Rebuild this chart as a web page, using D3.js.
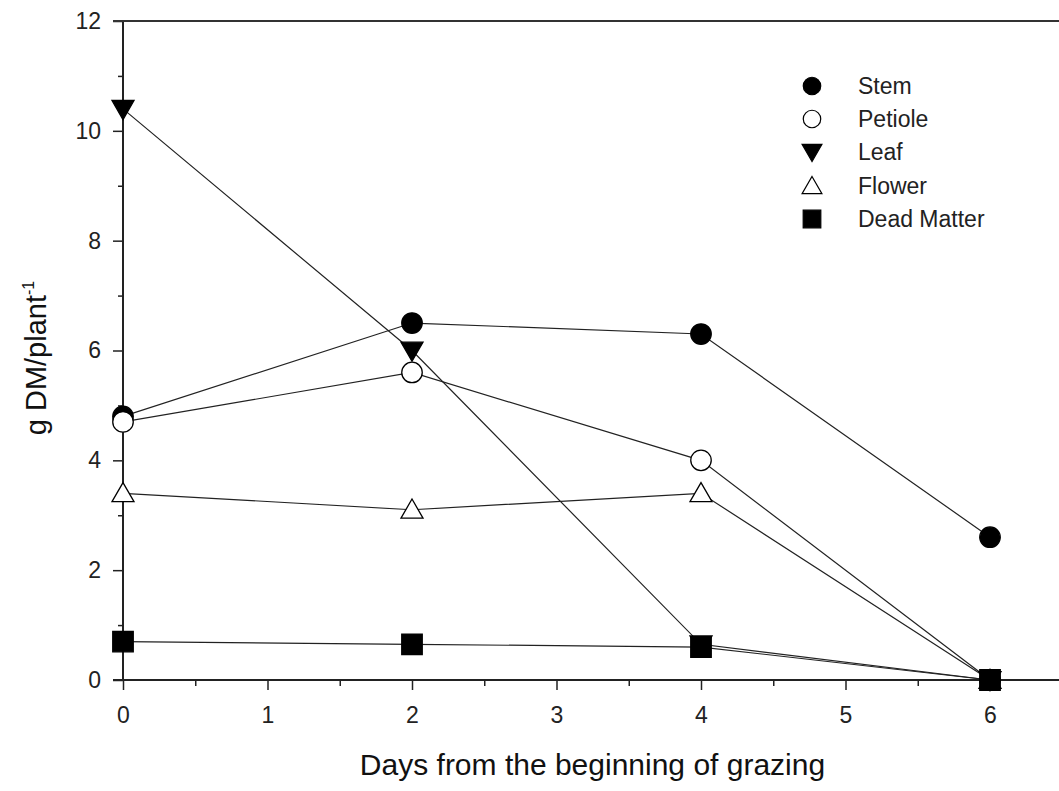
<!DOCTYPE html>
<html>
<head>
<meta charset="utf-8">
<script src="https://cdn.jsdelivr.net/npm/d3@7"></script>
<style>
  body { margin: 0; background: #fff; }
  svg { display: block; font-family: "Liberation Sans", Arial, sans-serif; }
</style>
</head>
<body>
<div id="chart"></div>
<script>
// days after start of grazing
const days = [0, 2, 4, 6];

const stem = [4.8, 6.5, 6.3, 2.6];
const petiole = [4.7, 5.6, 4.0, 0];
const leaf = [10.4, 6.0, 0.65, 0];
const flower = [3.4, 3.1, 3.4, 0];
const deadMatter = [0.7, 0.65, 0.6, 0];

const seriesNames = ['Stem', 'Petiole', 'Leaf', 'Flower', 'Dead Matter'];
const xTicks = [0, 1, 2, 3, 4, 5, 6];
const yTicks = [0, 2, 4, 6, 8, 10, 12];

const width = 1059, height = 791;

const series = [
  {name: seriesNames[0], values: stem, shape: d3.symbolCircle, fill: '#000', rot: 0},
  {name: seriesNames[1], values: petiole, shape: d3.symbolCircle, fill: '#fff', rot: 0},
  {name: seriesNames[2], values: leaf, shape: d3.symbolTriangle, fill: '#000', rot: 180},
  {name: seriesNames[3], values: flower, shape: d3.symbolTriangle, fill: '#fff', rot: 0},
  {name: seriesNames[4], values: deadMatter, shape: d3.symbolSquare, fill: '#000', rot: 0}
];
// symbol areas for plot and legend
const sizes = {circle: [330, 240], triangle: [210, 170], square: [420, 310]};
const sizeOf = (s, i) => s.shape === d3.symbolCircle ? sizes.circle[i]
  : s.shape === d3.symbolSquare ? sizes.square[i] : sizes.triangle[i];

const x = d3.scaleLinear().domain([0, 6]).range([123, 990]);
const y = d3.scaleLinear().domain([0, 12]).range([680, 21]);

const svg = d3.select('#chart').append('svg')
  .attr('width', width).attr('height', height);
svg.append('rect').attr('width', width).attr('height', height).attr('fill', '#fff');

// minor ticks
svg.append('g')
  .attr('transform', `translate(0,${y(0)})`)
  .call(d3.axisBottom(x).tickValues(d3.range(0.5, 6.6, 1)).tickSize(6).tickFormat(''))
  .call(g => g.select('.domain').remove())
  .selectAll('line').attr('stroke', '#222').attr('stroke-width', 1.5);
svg.append('g')
  .attr('transform', `translate(${x(0)},0)`)
  .call(d3.axisLeft(y).tickValues(d3.range(1, 12, 2)).tickSize(5).tickFormat(''))
  .call(g => g.select('.domain').remove())
  .selectAll('line').attr('stroke', '#222').attr('stroke-width', 1.5);

// major ticks
const xAxis = svg.append('g')
  .attr('transform', `translate(0,${y(0)})`)
  .call(d3.axisBottom(x).tickValues(xTicks).tickSize(10).tickPadding(17).tickFormat(d3.format('d')))
  .call(g => g.select('.domain').remove());
const yAxis = svg.append('g')
  .attr('transform', `translate(${x(0)},0)`)
  .call(d3.axisLeft(y).tickValues(yTicks).tickSize(10).tickPadding(12).tickFormat(d3.format('d')))
  .call(g => g.select('.domain').remove());
[xAxis, yAxis].forEach(a => {
  a.selectAll('line').attr('stroke', '#222').attr('stroke-width', 1.5);
  a.selectAll('text').attr('font-size', 23).attr('fill', '#222')
    .attr('font-family', '"Liberation Sans", Arial, sans-serif');
});

// frame lines
svg.append('line').attr('x1', x(0)).attr('x2', x(0)).attr('y1', y(12)).attr('y2', y(0))
  .attr('stroke', '#222').attr('stroke-width', 2);
svg.append('line').attr('x1', x(0) - 10).attr('x2', width).attr('y1', y(0)).attr('y2', y(0))
  .attr('stroke', '#222').attr('stroke-width', 2);
svg.append('line').attr('x1', x(0) - 10).attr('x2', width).attr('y1', y(12)).attr('y2', y(12))
  .attr('stroke', '#333').attr('stroke-width', 2);

const line = d3.line().x((d, i) => x(days[i])).y(d => y(d));

svg.append('g').selectAll('path').data(series).join('path')
  .attr('d', s => line(s.values))
  .attr('fill', 'none').attr('stroke', '#222').attr('stroke-width', 1.2);

series.forEach(s => {
  svg.append('g').selectAll('path').data(s.values).join('path')
    .attr('d', d3.symbol(s.shape, sizeOf(s, 0)))
    .attr('transform', (d, i) => `translate(${x(days[i])},${y(d) + (s.shape === d3.symbolTriangle ? (s.rot ? -2 : 2) : 0)}) rotate(${s.rot})`)
    .attr('fill', s.fill).attr('stroke', '#000').attr('stroke-width', 1.3);
});

// legend
const legendY = [86, 119, 152, 186, 219];
const legend = svg.append('g');
series.forEach((s, i) => {
  legend.append('path')
    .attr('d', d3.symbol(s.shape, sizeOf(s, 1)))
    .attr('transform', `translate(812,${legendY[i] + (s.shape === d3.symbolTriangle ? (s.rot ? -2 : 2) : 0)}) rotate(${s.rot})`)
    .attr('fill', s.fill).attr('stroke', '#000').attr('stroke-width', 1.2);
  legend.append('text')
    .attr('x', 858).attr('y', legendY[i] + 8)
    .attr('font-size', 23).attr('fill', '#222')
    .text(s.name);
});

// axis titles
svg.append('text')
  .attr('x', (350 + 835) / 2).attr('y', 775)
  .attr('text-anchor', 'middle').attr('font-size', 30).attr('fill', '#111')
  .text('Days from the beginning of grazing');

const yt = svg.append('text')
  .attr('transform', 'translate(46,358) rotate(-90)')
  .attr('text-anchor', 'middle').attr('font-size', 29).attr('fill', '#111');
yt.append('tspan').text('g DM/plant');
yt.append('tspan').attr('dy', -12).attr('font-size', 16).text('-1');
</script>
</body>
</html>
